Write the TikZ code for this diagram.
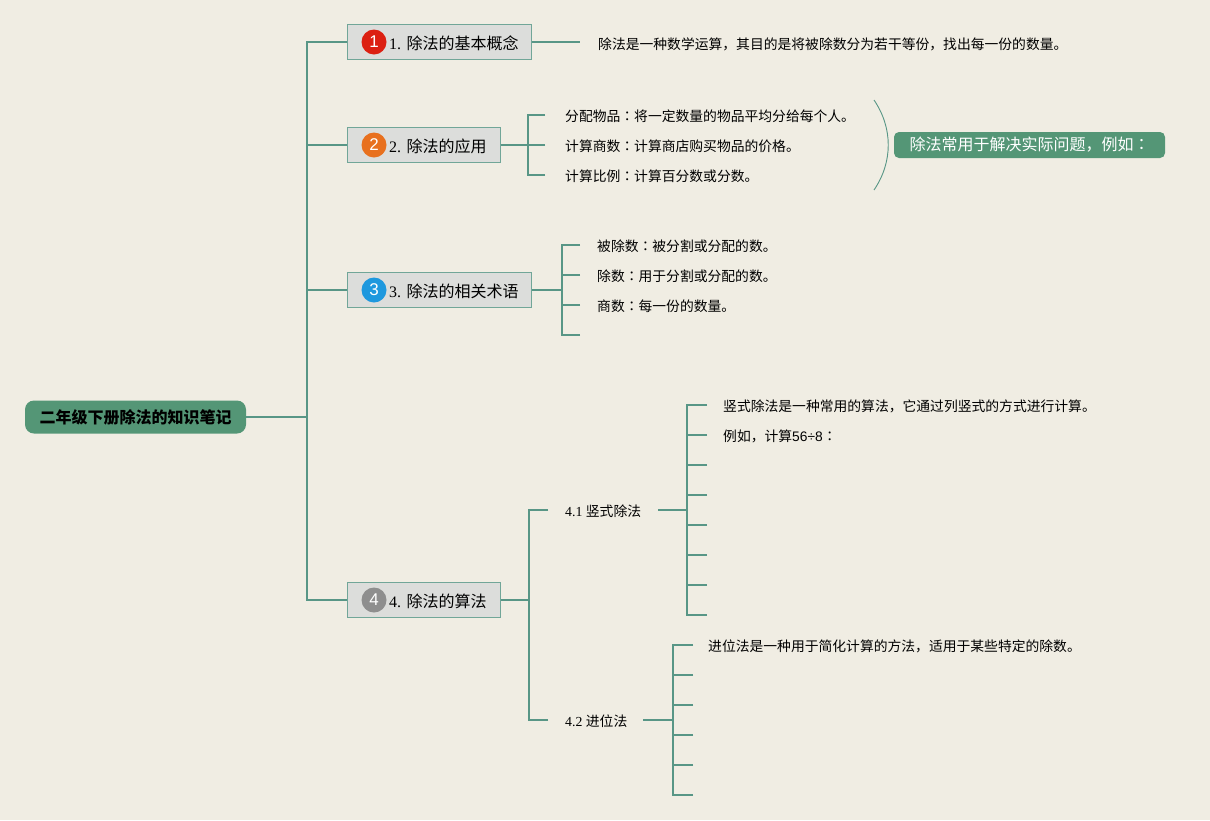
\documentclass[tikz,border=0pt]{standalone}
\usepackage{fontspec}
\setmainfont{Liberation Serif}
\newfontfamily\cjk{Noto Sans CJK SC}
\newfontfamily\tcfont{Noto Sans CJK TC}
\newfontfamily\snum{Liberation Sans}
\newcommand\fcolon{{\tcfont ：}}
\definecolor{bg}{RGB}{240,237,227}
\definecolor{ln}{RGB}{88,150,134}
\definecolor{rootg}{RGB}{84,150,118}
\definecolor{boxg}{RGB}{220,221,219}
\definecolor{c1}{RGB}{220,32,18}
\definecolor{c2}{RGB}{232,112,30}
\definecolor{c3}{RGB}{30,152,222}
\definecolor{c4}{RGB}{142,142,142}
\tikzset{
  conn/.style={draw=ln, line width=2.3pt},
  rootbox/.style={rounded corners=9pt, fill=rootg, minimum width=221pt, minimum height=33pt, inner sep=0pt, font=\cjk\bfseries\fontsize{16}{16}\selectfont, text=black},
  l1box/.style={draw=ln!85, fill=boxg, line width=1pt, minimum height=35pt, anchor=west, inner sep=0pt},
  numc/.style={circle, minimum size=25pt, inner sep=0pt, text=white, font=\snum\fontsize{17}{17}\selectfont},
  l1text/.style={anchor=west, inner sep=0pt, font=\fontsize{16}{16}\selectfont},
  leaf/.style={anchor=west, inner sep=0pt, font=\cjk\fontsize{13.8}{14}\selectfont},
  sub/.style={anchor=west, inner sep=0pt, font=\fontsize{13.8}{14}\selectfont},
  summ/.style={rounded corners=5pt, fill=rootg, minimum width=271pt, minimum height=26pt, inner sep=0pt, text=white, font=\cjk\fontsize{16}{16}\selectfont},
}
\begin{document}
\begin{tikzpicture}[x=1pt,y=-1pt]
\fill[bg] (0,0) rectangle (1210,820);
\useasboundingbox (0,0) rectangle (1210,820);

% root
\node[rootbox] (root) at (135.5,417) {二年级下册除法的知识笔记};
\coordinate (sr) at (307,417);

% level-1 boxes
\node[l1box, minimum width=184pt] (b1) at (347,42) {};
\node[l1box, minimum width=153pt] (b2) at (347,145) {};
\node[l1box, minimum width=184pt] (b3) at (347,290) {};
\node[l1box, minimum width=153pt] (b4) at (347,600) {};

\node[numc, fill=c1] (n1) at (374,42) {1};
\node[numc, fill=c2] (n2) at (374,145) {2};
\node[numc, fill=c3] (n3) at (374,290) {3};
\node[numc, fill=c4] (n4) at (374,600) {4};

\node[l1text] (t1) at (389,43) {1. {\cjk 除法的基本概念}};
\node[l1text] (t2) at (389,146) {2. {\cjk 除法的应用}};
\node[l1text] (t3) at (389,291) {3. {\cjk 除法的相关术语}};
\node[l1text] (t4) at (389,601) {4. {\cjk 除法的算法}};

% spine
\draw[conn] (root.east) -- (sr);
\draw[conn] (b1.west) -| (sr);
\draw[conn] (b2.west) -| (sr);
\draw[conn] (b3.west) -| (sr);
\draw[conn] (b4.west) -| (sr);

% branch 1
\coordinate (e11) at (580,42);
\draw[conn] (b1.east) -- (e11);
\node[leaf] (l11) at (598,44) {除法是一种数学运算，其目的是将被除数分为若干等份，找出每一份的数量。};

% branch 2
\coordinate (j2) at (528,145);
\coordinate (e21) at (545,115);
\coordinate (e22) at (545,145);
\coordinate (e23) at (545,175);
\draw[conn] (b2.east) -- (j2);
\draw[conn] (e21) -| (j2);
\draw[conn] (e22) -- (j2);
\draw[conn] (e23) -| (j2);
\node[leaf] (l21) at (565,116) {分配物品\fcolon 将一定数量的物品平均分给每个人。};
\node[leaf] (l22) at (565,146) {计算商数\fcolon 计算商店购买物品的价格。};
\node[leaf] (l23) at (565,176) {计算比例\fcolon 计算百分数或分数。};
\coordinate (ca) at (874,100);
\coordinate (cb) at (874,190);
\draw[ln, line width=0.9pt] (ca) .. controls (893,128) and (893,162) .. (cb);
\node[summ] (s2) at (1029.5,145) {除法常用于解决实际问题，例如\fcolon};

% branch 3
\coordinate (j3) at (562,290);
\coordinate (e31) at (580,245);
\coordinate (e32) at (580,275);
\coordinate (e33) at (580,305);
\coordinate (e34) at (580,335);
\draw[conn] (b3.east) -- (j3);
\draw[conn] (e31) -| (j3);
\draw[conn] (e32) -| (j3);
\draw[conn] (e33) -| (j3);
\draw[conn] (e34) -| (j3);
\node[leaf] (l31) at (597,246) {被除数\fcolon 被分割或分配的数。};
\node[leaf] (l32) at (597,276) {除数\fcolon 用于分割或分配的数。};
\node[leaf] (l33) at (597,306) {商数\fcolon 每一份的数量。};

% branch 4
\coordinate (j4) at (529,600);
\coordinate (e41) at (548,510);
\coordinate (e42) at (548,720);
\draw[conn] (b4.east) -- (j4);
\draw[conn] (e41) -| (j4);
\draw[conn] (e42) -| (j4);
\node[sub] (s41) at (565,511) {4.1 {\cjk 竖式除法}};
\node[sub] (s42) at (565,721) {4.2 {\cjk 进位法}};

% 4.1 leaves
\coordinate (j41) at (687,510);
\coordinate (s41e) at (658,510);
\draw[conn] (s41e) -- (j41);
\foreach \i/\y in {1/405,2/435,3/465,4/495,5/525,6/555,7/585,8/615}{
  \coordinate (f\i) at (707,\y);
  \draw[conn] (f\i) -| (j41);
}
\node[leaf] (l411) at (723,406) {竖式除法是一种常用的算法，它通过列竖式的方式进行计算。};
\node[leaf] (l412) at (723,436) {例如，计算{\snum 56÷8}\fcolon};

% 4.2 leaves
\coordinate (j42) at (673,720);
\coordinate (s42e) at (643,720);
\draw[conn] (s42e) -- (j42);
\foreach \i/\y in {1/645,2/675,3/705,4/735,5/765,6/795}{
  \coordinate (g\i) at (693,\y);
  \draw[conn] (g\i) -| (j42);
}
\node[leaf] (l421) at (708,646) {进位法是一种用于简化计算的方法，适用于某些特定的除数。};
\end{tikzpicture}
\end{document}
